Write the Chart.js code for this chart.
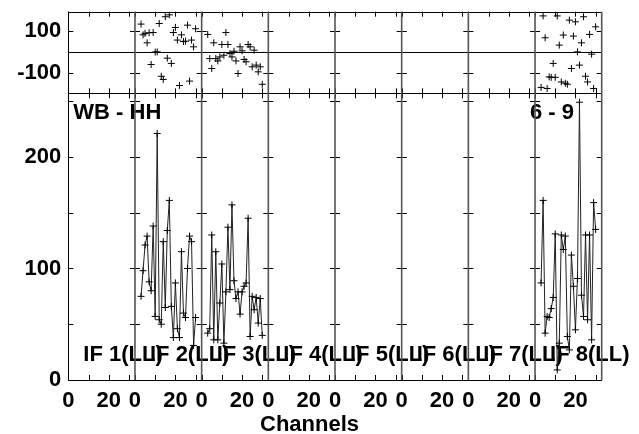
<!DOCTYPE html>
<html><head><meta charset="utf-8">
<script src="https://cdn.jsdelivr.net/npm/chart.js@4.4.1/dist/chart.umd.min.js"></script>
<style>html,body{margin:0;padding:0;background:#fff}#wrap{width:639px;height:434px;position:relative}</style>
</head><body><div id="wrap"><canvas id="c"></canvas></div>
<script>
// ---- data ----
const channels = [3,4,5,6,7,8,9,10,11,12,13,14,15,16,17,18,19,20,21,22,23,24,25,26,27,28,29,30];
const ifLabels = ['IF 1(LL)','IF 2(LL)','IF 3(LL)','IF 4(LL)','IF 5(LL)','IF 6(LL)','IF 7(LL)','IF 8(LL)'];
const ampIF2 = [75,98,121,129,88,80,138,57,221,54,50,124,65,134,161,66,38,87,46,38,115,60,56,100,129,124,31,56];
const ampIF3 = [42,46,130,36,115,36,69,104,33,79,137,81,157,89,73,79,59,79,84,87,145,39,75,63,74,51,73,40];
const ampIF8 = [87,161,42,57,56,64,74,131,9,33,130,117,129,39,27,112,84,45,91,249,76,57,130,54,130,36,159,135];
const phaseIF2 = [131,80,87,42,90,-61,91,-2,-1,134,-117,-132,166,-31,175,-56,91,115,55,-161,80,48,50,126,-140,55,23,109];
const phaseIF3 = [82,-33,-80,42,-33,-44,-25,34,-17,91,34,-9,-25,2,-44,-104,23,4,-37,-48,34,23,-72,7,-64,-96,-72,-155];
const phaseIF8 = [-170,170,66,-175,-120,-122,-56,-122,170,31,-144,79,-150,-155,150,-80,74,142,-1,-64,42,166,-117,-144,82,-12,-175,118];
const xTickValues = [0,10,20,30];
const xTickLabels = [0,20];
const phaseTickValues = [-100,100];
const ampTickValues = [0,50,100,150,200,250];
const ampTickLabels = [0,100,200];
const sourceLabel = 'WB - HH';
const timeLabel = '6 - 9';
const xTitle = 'Channels';

const FAMILY = '"Liberation Sans", Arial, sans-serif';
const FONT = {family:FAMILY, weight:'bold', size:22, lineHeight:1};
const TEXTFONT = 'bold 22px "Liberation Sans", Arial, sans-serif';
const panelData = {2:[ampIF2, phaseIF2], 3:[ampIF3, phaseIF3], 8:[ampIF8, phaseIF8]};

const datasets = [];
Object.keys(panelData).forEach(k => {
  const [amp, ph] = panelData[k];
  datasets.push({xAxisID:'x'+k, yAxisID:'amp', showLine:true,
    data: channels.map((c,i)=>({x:c, y:amp[i]})),
    borderColor:'#222', borderWidth:1, pointStyle:'cross', pointRadius:3.5,
    pointBorderColor:'#000', pointBorderWidth:1, tension:0});
  datasets.push({xAxisID:'x'+k, yAxisID:'phase', showLine:false,
    data: channels.map((c,i)=>({x:c, y:ph[i]})),
    pointStyle:'cross', pointRadius:3.5, pointBorderColor:'#000', pointBorderWidth:1});
});

const fitY = s => { s.width = 68.3; s.paddingTop = 0; s.paddingBottom = 0; };
const fitX = s => { s.height = 40; s.paddingLeft = 0; s.paddingRight = 0; };

const scales = {
  amp: {type:'linear', position:'left', stack:'y', stackWeight:286.7, min:0, max:257,
    afterBuildTicks: s => { s.ticks = ampTickValues.map(v=>({value:v})); },
    ticks:{autoSkip:false, padding:7, color:'#000', font:FONT, callback:v => ampTickLabels.includes(v)?String(v):''},
    grid:{display:false, drawTicks:false}, border:{display:false},
    afterFit: fitY},
  phase: {type:'linear', position:'left', stack:'y', stackWeight:81.6, min:-198, max:190,
    afterBuildTicks: s => { s.ticks = phaseTickValues.map(v=>({value:v})); },
    ticks:{autoSkip:false, padding:7, color:'#000', font:FONT, callback:v => String(v)},
    grid:{display:false, drawTicks:false}, border:{display:false},
    afterFit: fitY}
};
for (let i=1;i<=8;i++){
  scales['x'+i] = {type:'linear', position:'bottom', stack:'x', stackWeight:1, min:0, max:33,
    afterBuildTicks: s => { s.ticks = xTickValues.map(v=>({value:v})); },
    ticks:{autoSkip:false, maxRotation:0, padding:8, color:'#000', font:{family:FAMILY, weight:'bold', size:22, lineHeight:1.2},
      callback:v => xTickLabels.includes(v)?String(v):''},
    grid:{display:false, drawTicks:false}, border:{display:false},
    afterFit: fitX};
}

const crisp = v => Math.round(v) + 0.5;
const framePlugin = {
  id:'frames',
  beforeDraw(chart){ const c=chart.ctx; c.save(); c.fillStyle='#fff'; c.fillRect(0,0,chart.width,chart.height); c.restore(); },
  beforeDatasetsDraw(chart){
    const c = chart.ctx, am = chart.scales.amp, ca = chart.chartArea;
    c.save(); c.fillStyle='#000'; c.font=TEXTFONT; c.textBaseline='alphabetic';
    c.textAlign='left';
    for (let i=1;i<=8;i++){ const xs = chart.scales['x'+i]; c.fillText(ifLabels[i-1], xs.left+15, am.bottom-19); }
    c.fillText(sourceLabel, ca.left+5, am.top+26);
    c.textAlign='right';
    c.fillText(timeLabel, chart.scales.x8.left+39, am.top+26);
    c.textAlign='center';
    c.fillText(xTitle, 309.5, 431);
    c.restore();
  },
  afterDatasetsDraw(chart){
    const c = chart.ctx, ph = chart.scales.phase, am = chart.scales.amp, ca = chart.chartArea;
    const L = ca.left, R = ca.right, T = ph.top, M = ph.bottom, B = am.bottom;
    const TL = 5;
    c.save();
    c.strokeStyle='#000'; c.lineWidth=1;
    c.beginPath();
    [T, M, B, ph.getPixelForValue(0)].forEach(y => { c.moveTo(L, crisp(y)); c.lineTo(R, crisp(y)); });
    c.stroke();
    // x inner ticks
    c.beginPath();
    for (let i=1;i<=8;i++){
      const xs = chart.scales['x'+i];
      xs.ticks.forEach(t => {
        const x = crisp(xs.getPixelForValue(t.value));
        c.moveTo(x,T); c.lineTo(x,T+TL);
        c.moveTo(x,M-TL); c.lineTo(x,M+TL);
        c.moveTo(x,B-TL); c.lineTo(x,B);
      });
    }
    c.stroke();
    // panel borders
    const borders = [];
    for (let i=1;i<=8;i++) borders.push(chart.scales['x'+i].left);
    borders.push(chart.scales.x8.right);
    c.beginPath();
    borders.forEach((bx, j) => {
      const ys = [...ph.ticks.map(t=>ph.getPixelForValue(t.value)), ...am.ticks.map(t=>am.getPixelForValue(t.value))];
      ys.forEach(y => {
        const yy = crisp(y);
        c.moveTo(j===0?bx:bx-TL, yy); c.lineTo(j===borders.length-1?bx:bx+TL, yy);
      });
    });
    c.stroke();
    borders.forEach((bx, j) => {
      c.beginPath();
      c.strokeStyle = j===0 ? '#000' : '#555';
      c.lineWidth = j===0 ? 1 : 1.6;
      const x = j===0 ? crisp(bx) : bx;
      c.moveTo(x, T); c.lineTo(x, B);
      c.stroke();
    });
    c.restore();
  }
};

Chart.defaults.font.family = FAMILY;
Chart.defaults.color = '#000';
new Chart(document.getElementById('c'), {
  type:'scatter',
  data:{datasets},
  options:{
    responsive:true, maintainAspectRatio:false, animation:false,
    layout:{padding:{top:11.7, right:37.3, left:0, bottom:14}},
    plugins:{legend:{display:false}, tooltip:{enabled:false}},
    scales
  },
  plugins:[framePlugin]
});
</script></body></html>
